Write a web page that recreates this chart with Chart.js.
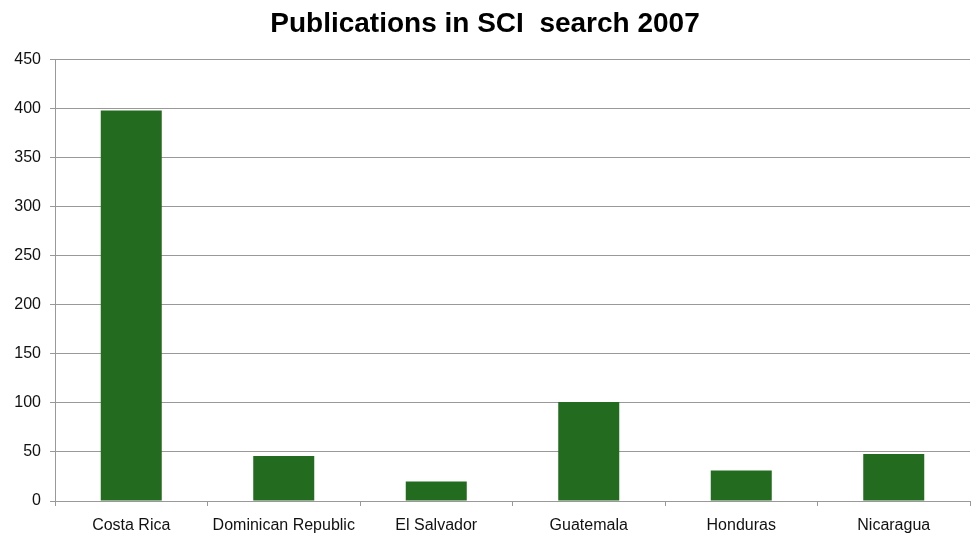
<!DOCTYPE html>
<html>
<head>
<meta charset="utf-8">
<script src="https://cdn.jsdelivr.net/npm/chart.js@4"></script>
<style>
  html, body { margin: 0; padding: 0; background: #fff; }
  #wrap { width: 971px; height: 538px; }
</style>
</head>
<body>
<div id="wrap"><canvas id="myChart" width="971" height="538"></canvas></div>
<script>
const countries = ["Costa Rica", "Dominican Republic", "El Salvador", "Guatemala", "Honduras", "Nicaragua"];
const publications = [398, 46, 20, 101, 31, 48];
const yTicks = [0, 50, 100, 150, 200, 250, 300, 350, 400, 450];

Chart.defaults.font.family = "'Liberation Sans', Arial, sans-serif";
Chart.defaults.color = "#111";

const ctx = document.getElementById("myChart").getContext("2d");
new Chart(ctx, {
  type: "bar",
  data: {
    labels: countries,
    datasets: [{
      data: publications,
      backgroundColor: "#236b1e",
      borderWidth: 0,
      barPercentage: 0.4,
      categoryPercentage: 1
    }]
  },
  options: {
    responsive: false,
    animation: false,
    layout: { padding: { left: 0, right: 1, top: 0, bottom: 0 } },
    plugins: {
      legend: { display: false },
      tooltip: { enabled: false },
      title: {
        display: true,
        text: "Publications in SCI  search 2007",
        color: "#000",
        font: { size: 28, weight: "bold" },
        padding: { top: 7, bottom: 19 }
      }
    },
    scales: {
      x: {
        offset: true,
        afterFit: axis => { axis.height = 37; },
        grid: {
          display: true,
          offset: true,
          drawOnChartArea: false,
          drawTicks: true,
          tickLength: 5,
          color: "#999"
        },
        border: { color: "#999" },
        ticks: { font: { size: 16 }, padding: 10, maxRotation: 0, autoSkip: false }
      },
      y: {
        min: 0,
        max: 450,
        afterBuildTicks: axis => { axis.ticks = yTicks.map(v => ({ value: v })); },
        afterFit: axis => { axis.width = 55; },
        grid: { color: "#999", tickLength: 5 },
        border: { color: "#999" },
        ticks: { font: { size: 16 }, padding: 9 }
      }
    }
  }
});
</script>
</body>
</html>
